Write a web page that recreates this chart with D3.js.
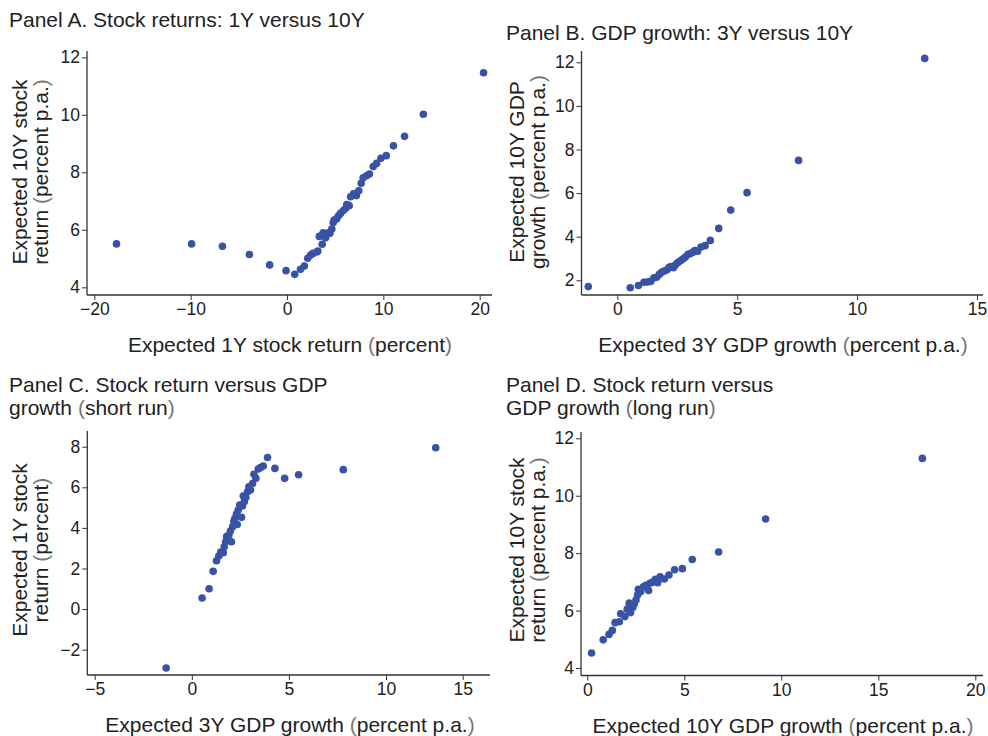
<!DOCTYPE html>
<html>
<head>
<meta charset="utf-8">
<script src="https://cdn.jsdelivr.net/npm/d3@7"></script>
<style>
  html, body { margin: 0; padding: 0; background: #fff; }
  svg text { font-family: "Liberation Sans", Arial, Helvetica, sans-serif; fill: #222; }
</style>
</head>
<body>
<svg id="chart" width="988" height="736"></svg>
<script>
// Panel A: expected 1Y stock return (x) vs expected 10Y stock return (y)
const panelA_x = [-17.7, -9.9, -6.7, -3.9, -1.8, -0.1, 0.8, 1.4, 1.8, 2.15, 2.45, 2.7, 3.1, 3.2, 3.35, 3.65, 3.75, 4.0, 4.3, 4.45, 4.65, 4.8, 4.9, 5.15, 5.35, 5.55, 5.85, 6.1, 6.2, 6.45, 6.6, 6.9, 7.2, 7.45, 7.7, 7.9, 8.25, 8.55, 8.95, 9.3, 9.75, 10.3, 11.05, 12.2, 14.15, 20.4];
const panelA_y = [5.51, 5.51, 5.43, 5.14, 4.78, 4.58, 4.45, 4.63, 4.74, 5.01, 5.12, 5.18, 5.23, 5.26, 5.77, 5.50, 5.90, 5.72, 5.90, 5.88, 6.03, 6.25, 6.34, 6.38, 6.49, 6.57, 6.67, 6.75, 6.88, 6.84, 7.15, 7.25, 7.19, 7.36, 7.62, 7.81, 7.88, 7.94, 8.20, 8.31, 8.49, 8.58, 8.92, 9.25, 10.02, 11.46];

// Panel B: expected 3Y GDP growth (x) vs expected 10Y GDP growth (y)
const panelB_x = [-1.21, 0.54, 0.88, 1.11, 1.25, 1.39, 1.53, 1.64, 1.75, 1.85, 1.96, 2.06, 2.15, 2.24, 2.34, 2.41, 2.50, 2.57, 2.66, 2.75, 2.84, 2.95, 3.03, 3.14, 3.24, 3.35, 3.49, 3.66, 3.88, 4.23, 4.73, 5.41, 7.56, 12.82];
const panelB_y = [1.71, 1.66, 1.76, 1.91, 1.92, 1.95, 2.12, 2.14, 2.27, 2.37, 2.43, 2.47, 2.58, 2.63, 2.58, 2.69, 2.79, 2.85, 2.92, 2.99, 3.07, 3.19, 3.22, 3.28, 3.36, 3.33, 3.53, 3.59, 3.83, 4.38, 5.22, 6.02, 7.50, 12.18];

// Panel C: expected 3Y GDP growth (x) vs expected 1Y stock return (y)
const panelC_x = [-1.32, 0.53, 0.89, 1.10, 1.27, 1.39, 1.49, 1.62, 1.67, 1.74, 1.79, 1.91, 2.04, 1.99, 2.10, 2.16, 2.22, 2.34, 2.30, 2.39, 2.47, 2.56, 2.61, 2.70, 2.65, 2.78, 2.87, 2.94, 3.02, 3.13, 3.20, 3.30, 3.42, 3.54, 3.68, 3.90, 4.28, 4.78, 5.50, 7.80, 13.24];
const panelC_y = [-2.90, 0.55, 1.00, 1.86, 2.38, 2.61, 2.81, 2.78, 3.07, 3.32, 3.57, 3.65, 3.32, 3.85, 4.06, 4.31, 4.47, 4.17, 4.68, 4.88, 5.13, 4.52, 5.08, 5.29, 5.57, 5.50, 5.78, 6.03, 5.87, 6.19, 6.64, 6.44, 6.90, 6.97, 7.05, 7.47, 6.93, 6.44, 6.62, 6.87, 7.95];

// Panel D: expected 10Y GDP growth (x) vs expected 10Y stock return (y)
const panelD_x = [0.22, 0.82, 1.12, 1.29, 1.43, 1.65, 1.72, 1.94, 2.06, 2.16, 2.23, 2.34, 2.42, 2.51, 2.59, 2.63, 2.75, 2.89, 3.02, 3.16, 3.23, 3.37, 3.51, 3.63, 3.75, 3.97, 4.21, 4.50, 4.90, 5.41, 6.77, 9.19, 17.27];
const panelD_y = [4.52, 4.98, 5.17, 5.31, 5.58, 5.61, 5.89, 5.79, 6.05, 6.26, 5.93, 6.11, 6.23, 6.37, 6.54, 6.74, 6.66, 6.83, 6.88, 6.70, 6.95, 6.99, 7.09, 6.97, 7.18, 7.10, 7.24, 7.42, 7.46, 7.78, 8.04, 9.19, 11.30];

// Tick values
const ticksA_x = [-20, -10, 0, 10, 20];
const ticksA_y = [4, 6, 8, 10, 12];
const ticksB_x = [0, 5, 10, 15];
const ticksB_y = [2, 4, 6, 8, 10, 12];
const ticksC_x = [-5, 0, 5, 10, 15];
const ticksC_y = [-2, 0, 2, 4, 6, 8];
const ticksD_x = [0, 5, 10, 15, 20];
const ticksD_y = [4, 6, 8, 10, 12];

// Titles
const titlesA = ["Panel A. Stock returns: 1Y versus 10Y"];
const titlesB = ["Panel B. GDP growth: 3Y versus 10Y"];
const titlesC = ["Panel C. Stock return versus GDP", "growth (short run)"];
const titlesD = ["Panel D. Stock return versus", "GDP growth (long run)"];
const xTitleA = "Expected 1Y stock return (percent)";
const xTitleB = "Expected 3Y GDP growth (percent p.a.)";
const xTitleC = "Expected 3Y GDP growth (percent p.a.)";
const xTitleD = "Expected 10Y GDP growth (percent p.a.)";
const yTitleA = ["Expected 10Y stock", "return (percent p.a.)"];
const yTitleB = ["Expected 10Y GDP", "growth (percent p.a.)"];
const yTitleC = ["Expected 1Y stock", "return (percent)"];
const yTitleD = ["Expected 10Y stock", "return (percent p.a.)"];

const svg = d3.select("#chart");
const DOT = "#3853a6";
const AXIS = "#333";
const TITLE_SIZE = "21px";
const TICK_SIZE = "17.5px";

// Writes text where parentheses are drawn in a lighter tone
function richText(sel, str) {
  const parts = str.split(/([()])/).filter(s => s.length);
  parts.forEach(p => {
    const t = sel.append("tspan").text(p);
    if (p === "(" || p === ")") t.style("fill", "#777");
  });
}

function drawPanel(cfg) {
  const g = svg.append("g");
  const x = d3.scaleLinear().domain(cfg.xDomain).range(cfg.xRange);
  const y = d3.scaleLinear().domain(cfg.yDomain).range(cfg.yRange);

  // title lines
  cfg.titles.forEach((t, i) => {
    const el = g.append("text")
      .attr("x", cfg.titleX).attr("y", cfg.titleY + i * 23)
      .style("font-size", TITLE_SIZE);
    richText(el, t);
  });

  // x axis
  const xAxis = d3.axisBottom(x).tickValues(cfg.xTicks).tickSize(5).tickSizeOuter(0)
    .tickFormat(d3.format("d"));
  const xg = g.append("g").attr("transform", `translate(0,${cfg.axisY})`).call(xAxis);
  xg.select(".domain").remove();
  xg.append("line").attr("x1", cfg.axisX).attr("x2", cfg.xEnd).attr("y1", 0).attr("y2", 0)
    .attr("stroke", AXIS).attr("stroke-width", 1.3);
  xg.selectAll(".tick line").attr("stroke", AXIS).attr("stroke-width", 1);
  xg.selectAll(".tick text").attr("y", 8).style("font-size", TICK_SIZE)
    .style("font-family", '"Liberation Sans", Arial, sans-serif').attr("fill", "#222");

  // y axis
  const yAxis = d3.axisLeft(y).tickValues(cfg.yTicks).tickSize(5).tickSizeOuter(0)
    .tickFormat(d3.format("d"));
  const yg = g.append("g").attr("transform", `translate(${cfg.axisX},0)`).call(yAxis);
  yg.select(".domain").remove();
  yg.append("line").attr("x1", 0).attr("x2", 0).attr("y1", cfg.yTop).attr("y2", cfg.axisY)
    .attr("stroke", AXIS).attr("stroke-width", 1.3);
  yg.selectAll(".tick line").attr("stroke", AXIS).attr("stroke-width", 1);
  yg.selectAll(".tick text").attr("x", -7).style("font-size", TICK_SIZE)
    .style("font-family", '"Liberation Sans", Arial, sans-serif').attr("fill", "#222");

  // x axis title
  const xt = g.append("text").attr("x", cfg.xTitleX).attr("y", cfg.axisY + 57)
    .attr("text-anchor", "middle").style("font-size", TITLE_SIZE);
  richText(xt, cfg.xTitle);

  // y axis title (two rotated lines)
  cfg.yTitle.forEach((t, i) => {
    const el = g.append("text")
      .attr("transform", `translate(${cfg.yTitleX + i * 21},${cfg.yTitleY}) rotate(-90)`)
      .attr("text-anchor", "middle").style("font-size", TITLE_SIZE);
    richText(el, t);
  });

  // points
  g.append("g").selectAll("circle")
    .data(d3.zip(cfg.xs, cfg.ys))
    .join("circle")
    .attr("cx", d => x(d[0]))
    .attr("cy", d => y(d[1]))
    .attr("r", 3.8)
    .attr("fill", DOT);
}

drawPanel({
  xs: panelA_x, ys: panelA_y,
  xDomain: [-20, 20], xRange: [94.3, 479.7],
  yDomain: [4, 12], yRange: [287.3, 57.3],
  xTicks: ticksA_x, yTicks: ticksA_y,
  axisX: 87, axisY: 295, xEnd: 492, yTop: 51,
  titles: titlesA, titleX: 9, titleY: 27,
  xTitle: xTitleA, xTitleX: 290,
  yTitle: yTitleA, yTitleX: 27, yTitleY: 172
});

drawPanel({
  xs: panelB_x, ys: panelB_y,
  xDomain: [0, 15], xRange: [617.3, 977],
  yDomain: [2, 12], yRange: [280.3, 62.3],
  xTicks: ticksB_x, yTicks: ticksB_y,
  axisX: 581.5, axisY: 295, xEnd: 983, yTop: 51,
  titles: titlesB, titleX: 506, titleY: 40,
  xTitle: xTitleB, xTitleX: 783,
  yTitle: yTitleB, yTitleX: 524, yTitleY: 172
});

drawPanel({
  xs: panelC_x, ys: panelC_y,
  xDomain: [-5, 10, 15], xRange: [94.7, 386, 462.7],
  yDomain: [-2, 8], yRange: [649.7, 446.7],
  xTicks: ticksC_x, yTicks: ticksC_y,
  axisX: 87.3, axisY: 675, xEnd: 490, yTop: 431,
  titles: titlesC, titleX: 9, titleY: 392,
  xTitle: xTitleC, xTitleX: 290,
  yTitle: yTitleC, yTitleX: 27, yTitleY: 550
});

drawPanel({
  xs: panelD_x, ys: panelD_y,
  xDomain: [0, 20], xRange: [587.3, 975.3],
  yDomain: [4, 12], yRange: [668, 438.3],
  xTicks: ticksD_x, yTicks: ticksD_y,
  axisX: 581, axisY: 675.5, xEnd: 983, yTop: 432,
  titles: titlesD, titleX: 506, titleY: 392,
  xTitle: xTitleD, xTitleX: 783,
  yTitle: yTitleD, yTitleX: 524, yTitleY: 550
});
</script>
</body>
</html>
